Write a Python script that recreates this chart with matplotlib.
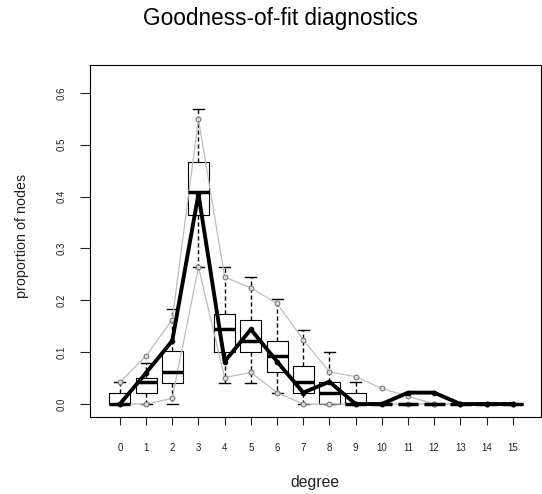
import matplotlib
matplotlib.use("Agg")
import matplotlib.pyplot as plt

plt.rcParams['font.family'] = ['Liberation Sans', 'DejaVu Sans']

degree = list(range(16))
# simulated distribution summaries (boxplots)
q1 = [0, 0.021, 0.041, 0.365, 0.101, 0.101, 0.061, 0.022, 0, 0, 0, 0, 0, 0, 0, 0]
med = [0, 0.042, 0.061, 0.408, 0.144, 0.122, 0.093, 0.043, 0.021, 0, 0, 0, 0, 0, 0, 0]
q3 = [0.022, 0.051, 0.102, 0.467, 0.174, 0.163, 0.122, 0.073, 0.043, 0.022, 0, 0, 0, 0, 0, 0]
whis_lo = [0, 0, 0, 0.264, 0.041, 0.041, 0.021, 0, 0, 0, 0, 0, 0, 0, 0, 0]
whis_hi = [0.042, 0.080, 0.183, 0.569, 0.264, 0.245, 0.203, 0.143, 0.101, 0.043, 0, 0, 0, 0, 0, 0]
# gray quantile lines
upper = [0.042, 0.093, 0.163, 0.549, 0.245, 0.224, 0.194, 0.124, 0.062, 0.053, 0.030, 0.015, 0, 0, 0, 0]
lower = [0, 0, 0.011, 0.264, 0.051, 0.061, 0.022, 0, 0, 0, 0, 0, 0, 0, 0, 0]
# observed network
observed = [0, 0.060, 0.122, 0.405, 0.082, 0.144, 0.082, 0.022, 0.043, 0, 0, 0.022, 0.022, 0, 0, 0]

fig = plt.figure(figsize=(5.42, 4.94), dpi=100)
ax = fig.add_axes([0.1661, 0.1559, 0.8321, 0.7126])

stats = []
for i in range(len(degree)):
    stats.append({'med': med[i], 'q1': q1[i], 'q3': q3[i],
                  'whislo': whis_lo[i], 'whishi': whis_hi[i], 'fliers': []})

ax.bxp(stats, positions=degree, widths=0.8, capwidths=0.42, showfliers=False,
       boxprops=dict(color='black', linewidth=0.8),
       medianprops=dict(color='black', linewidth=2.5),
       whiskerprops=dict(color='black', linewidth=1.0, linestyle=(0, (3, 2))),
       capprops=dict(color='black', linewidth=1.0),
       manage_ticks=False)

ax.plot(degree, upper, color='#bdbdbd', linewidth=0.9, marker='o', markersize=3.5,
        markerfacecolor='#d9d9d9', markeredgecolor='#6e6e6e', markeredgewidth=0.7)
ax.plot(degree, lower, color='#bdbdbd', linewidth=0.9, marker='o', markersize=3.5,
        markerfacecolor='#d9d9d9', markeredgecolor='#6e6e6e', markeredgewidth=0.7)
ax.plot(degree, observed, color='black', linewidth=2.8, marker='o', markersize=3)

ax.set_xlim(-1.14, 16.08)
ax.set_ylim(-0.025, 0.654)
ax.set_xticks(degree)
ax.set_xticklabels([str(d) for d in degree], fontsize=7)
ax.set_yticks([0, 0.1, 0.2, 0.3, 0.4, 0.5, 0.6])
ax.set_yticklabels(['0.0', '0.1', '0.2', '0.3', '0.4', '0.5', '0.6'],
                   fontsize=7, rotation=90, va='center')
ax.tick_params(axis='x', length=6, width=0.8, pad=13, colors='#222222')
ax.tick_params(axis='y', length=7, width=0.8, pad=10, colors='#222222')
for s in ax.spines.values():
    s.set_linewidth(0.8)

fig.text(22 / 542, 1 - 236 / 494, 'proportion of nodes', rotation=90,
         fontsize=10.3, ha='center', va='center', color='#222222')
fig.text(315 / 542, 1 - 482 / 494, 'degree', fontsize=11.3, ha='center', va='center',
         color='#222222')
fig.text(280 / 542, 1 - 18 / 494, 'Goodness-of-fit diagnostics', fontsize=16.3,
         ha='center', va='center')

fig.savefig('out.png', dpi=100)
